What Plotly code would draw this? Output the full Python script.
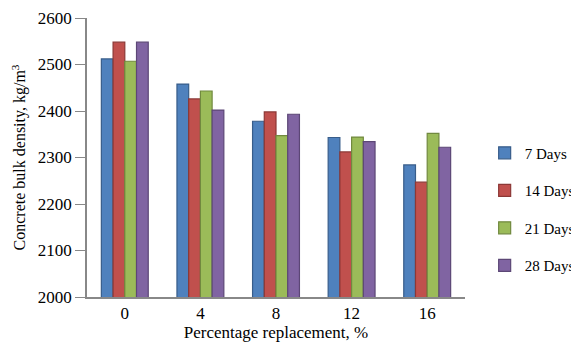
import plotly.graph_objects as go

categories = ["0", "4", "8", "12", "16"]
days7 = [2512, 2458, 2378, 2343, 2284]
days14 = [2548, 2426, 2398, 2312, 2247]
days21 = [2507, 2443, 2347, 2344, 2352]
days28 = [2548, 2402, 2393, 2334, 2322]
series_names = ["7 Days", "14 Days", "21 Days", "28 Days"]
series_values = [days7, days14, days21, days28]
colors = ["#4F81BD", "#C0504D", "#9BBB59", "#8064A2"]
edge_colors = ["#385D8A", "#8C3836", "#71893F", "#5C4776"]

fig = go.Figure()
for name, vals, c, ec in zip(series_names, series_values, colors, edge_colors):
    fig.add_trace(go.Bar(
        x=categories, y=vals, name=name, legendgroup=name,
        marker=dict(color=c, line=dict(color=ec, width=1.2)),
    ))

font = "Liberation Serif, Times New Roman, serif"
fig.update_layout(
    width=579, height=335,
    margin=dict(l=79, r=122, t=10, b=46, autoexpand=False),
    paper_bgcolor="white", plot_bgcolor="white",
    font=dict(family=font, size=16, color="black"),
    barmode="group", bargap=0.38, bargroupgap=0.0,
    showlegend=True,
    legend=dict(x=1.052, y=0.315, xanchor="left", yanchor="middle",
                font=dict(family=font, size=15), tracegroupgap=15,
                itemwidth=30, bgcolor="rgba(0,0,0,0)"),
)
fig.update_yaxes(range=[2000, 2600], dtick=100, showgrid=False,
                 showline=True, linecolor="#888888", linewidth=1.5,
                 ticks="outside", ticklen=10, tickcolor="#888888",
                 tickfont=dict(size=17),
                 title=dict(text="Concrete bulk density, kg/m<sup>3</sup>", standoff=8,
                            font=dict(size=16)),
                 zeroline=False)
fig.update_xaxes(showline=True, linecolor="#888888", linewidth=1.5,
                 ticks="", showgrid=False, tickfont=dict(size=17),
                 title=dict(text="Percentage replacement, %", standoff=2,
                            font=dict(size=17)))

fig.write_html("out.html")
